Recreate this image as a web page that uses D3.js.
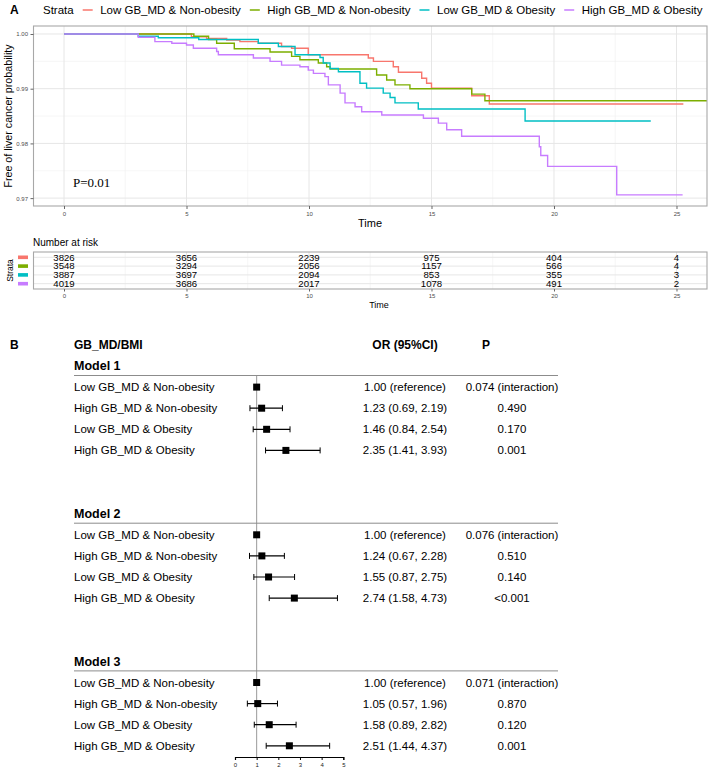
<!DOCTYPE html>
<html>
<head>
<meta charset="utf-8">
<script src="https://cdn.jsdelivr.net/npm/d3@7/dist/d3.min.js"></script>
<style>
  body { margin: 0; background: #fff; }
  svg text { font-family: "Liberation Sans", Arial, Helvetica, sans-serif; white-space: pre; }
</style>
</head>
<body>
<div id="chart"></div>
<script>
// ---- panel A: Kaplan-Meier data ----
const strata = ['Low GB_MD & Non-obesity', 'High GB_MD & Non-obesity', 'Low GB_MD & Obesity', 'High GB_MD & Obesity'];
const strataColors = ['#F8766D', '#7CAE00', '#00BFC4', '#C77CFF'];

// [time, survival] at each step
const kmLowNonObese = [[0, 1.0000], [5.20, 0.9995], [5.82, 0.9992], [6.64, 0.9989], [7.18, 0.9986], [7.93, 0.9983], [8.88, 0.9977], [9.29, 0.9974], [9.97, 0.9962], [12.42, 0.9956], [12.63, 0.9950], [13.44, 0.9940], [13.65, 0.9930], [14.60, 0.9919], [14.80, 0.9910], [15.00, 0.9901], [16.64, 0.9887], [17.36, 0.9872], [25.28, 0.9872]];
const kmHighNonObese = [[0, 1.0000], [5.30, 0.9996], [5.90, 0.9990], [6.23, 0.9983], [6.95, 0.9973], [8.41, 0.9967], [9.29, 0.9959], [9.63, 0.9953], [10.38, 0.9947], [10.72, 0.9940], [10.86, 0.9936], [12.76, 0.9925], [13.17, 0.9916], [13.51, 0.9907], [14.12, 0.9900], [16.64, 0.9890], [17.18, 0.9878], [26.50, 0.9878]];
const kmLowObese = [[0, 1.0000], [3.03, 0.9996], [3.85, 0.9993], [5.50, 0.9990], [7.93, 0.9983], [8.75, 0.9977], [9.43, 0.9962], [10.45, 0.9957], [10.58, 0.9947], [10.86, 0.9937], [11.20, 0.9931], [12.08, 0.9910], [12.35, 0.9901], [13.03, 0.9892], [13.31, 0.9884], [13.51, 0.9874], [14.46, 0.9863], [18.82, 0.9841], [23.95, 0.9841]];
const kmHighObese = [[0, 1.0000], [3.03, 0.9994], [3.71, 0.9986], [4.40, 0.9983], [5.00, 0.9980], [5.28, 0.9974], [6.23, 0.9968], [6.30, 0.9962], [7.73, 0.9956], [8.41, 0.9950], [8.88, 0.9943], [9.63, 0.9940], [9.97, 0.9934], [10.18, 0.9928], [10.65, 0.9922], [10.79, 0.9907], [11.27, 0.9892], [11.47, 0.9874], [11.88, 0.9867], [12.15, 0.9858], [12.97, 0.9852], [14.67, 0.9846], [15.28, 0.9837], [15.62, 0.9825], [16.23, 0.9813], [19.40, 0.9794], [19.46, 0.9778], [19.74, 0.9758], [22.56, 0.9706], [25.25, 0.9706]];
const kmSeries = [kmLowNonObese, kmHighNonObese, kmLowObese, kmHighObese];

const timeTicks = [0, 5, 10, 15, 20, 25];
const survTicks = [0.97, 0.98, 0.99, 1.00];
const pLogRank = 'P=0.01';

// number at risk, one array per stratum, at timeTicks
const riskLowNonObese = [3826, 3656, 2239, 975, 404, 4];
const riskHighNonObese = [3548, 3294, 2056, 1157, 566, 4];
const riskLowObese = [3887, 3697, 2094, 853, 355, 3];
const riskHighObese = [4019, 3686, 2017, 1078, 491, 2];
const riskTable = [riskLowNonObese, riskHighNonObese, riskLowObese, riskHighObese];

// ---- panel B: odds ratios ----
const models = ['Model 1', 'Model 2', 'Model 3'];
const orModel1 = [1.00, 1.23, 1.46, 2.35];
const lowModel1 = [null, 0.69, 0.84, 1.41];
const highModel1 = [null, 2.19, 2.54, 3.93];
const pModel1 = ['0.074 (interaction)', '0.490', '0.170', '0.001'];
const orModel2 = [1.00, 1.24, 1.55, 2.74];
const lowModel2 = [null, 0.67, 0.87, 1.58];
const highModel2 = [null, 2.28, 2.75, 4.73];
const pModel2 = ['0.076 (interaction)', '0.510', '0.140', '<0.001'];
const orModel3 = [1.00, 1.05, 1.58, 2.51];
const lowModel3 = [null, 0.57, 0.89, 1.44];
const highModel3 = [null, 1.96, 2.82, 4.37];
const pModel3 = ['0.071 (interaction)', '0.870', '0.120', '0.001'];
const orTicks = [0, 1, 2, 3, 4, 5];

(function() {
    'use strict';

    class LiverCancerFigure {
        constructor(el) {
            this.svg = d3.select(el).append('svg')
                .attr('width', 709)
                .attr('height', 772);
            this.svg.append('rect').attr('width', 709).attr('height', 772).attr('fill', '#fff');
            // shared time axis for the curve panel and the risk table
            this.x = d3.scaleLinear().domain([-1.245, 26.245]).range([33.5, 707]);
            this.drawLegend();
            this.drawCurves();
            this.drawRiskTable();
            this.drawForest();
        }

        drawLegend() {
            const g = this.svg.append('g');
            g.append('text').attr('x', 10).attr('y', 10).attr('dy', '0.35em')
                .attr('font-size', 12).attr('font-weight', 'bold').text('A');
            let cx = 43;
            const t = g.append('text').attr('x', cx).attr('y', 10).attr('dy', '0.35em')
                .attr('font-size', 11.5).text('Strata');
            cx += t.node().getComputedTextLength() + 9;
            strata.forEach((s, i) => {
                g.append('line').attr('x1', cx).attr('x2', cx + 10).attr('y1', 10).attr('y2', 10)
                    .attr('stroke', strataColors[i]).attr('stroke-width', 1.5);
                cx += 17.5;
                const lab = g.append('text').attr('x', cx).attr('y', 10).attr('dy', '0.35em')
                    .attr('font-size', 11.5).text(s);
                cx += lab.node().getComputedTextLength() + 9;
            });
        }

        drawCurves() {
            const x = this.x;
            const y = d3.scaleLinear().domain([0.96856, 1.00146]).range([206, 26]);
            const g = this.svg.append('g');
            const top = 26, bottom = 206, left = 33.5, right = 707;

            g.append('clipPath').attr('id', 'km-clip')
                .append('rect').attr('x', left).attr('y', top).attr('width', right - left).attr('height', bottom - top);

            // minor then major grid
            const minorX = timeTicks.map(d => d + 2.5).filter(d => x(d) > left && x(d) < right);
            const minorY = survTicks.slice(0, -1).map(d => d + 0.005);
            g.selectAll('.vminor').data(minorX).enter().append('line')
                .attr('x1', d => x(d)).attr('x2', d => x(d)).attr('y1', top).attr('y2', bottom)
                .attr('stroke', '#f0f0f0').attr('stroke-width', 0.6);
            g.selectAll('.hminor').data(minorY).enter().append('line')
                .attr('x1', left).attr('x2', right).attr('y1', d => y(d)).attr('y2', d => y(d))
                .attr('stroke', '#f0f0f0').attr('stroke-width', 0.6);
            g.selectAll('.vmajor').data(timeTicks).enter().append('line')
                .attr('x1', d => x(d)).attr('x2', d => x(d)).attr('y1', top).attr('y2', bottom)
                .attr('stroke', '#e6e6e6').attr('stroke-width', 1);
            g.selectAll('.hmajor').data(survTicks).enter().append('line')
                .attr('x1', left).attr('x2', right).attr('y1', d => y(d)).attr('y2', d => y(d))
                .attr('stroke', '#e6e6e6').attr('stroke-width', 1);

            const line = d3.line().x(d => x(d[0])).y(d => y(d[1])).curve(d3.curveStepAfter);
            g.append('g').attr('clip-path', 'url(#km-clip)')
                .selectAll('path').data(kmSeries).enter().append('path')
                .attr('d', line)
                .attr('fill', 'none')
                .attr('stroke', (d, i) => strataColors[i])
                .attr('stroke-width', 1.4);

            g.append('rect').attr('x', left).attr('y', top).attr('width', right - left).attr('height', bottom - top)
                .attr('fill', 'none').attr('stroke', '#a8a8a8').attr('stroke-width', 1.1);

            // axes
            const ax = g.append('g').attr('transform', `translate(0,${bottom})`)
                .call(d3.axisBottom(x).tickValues(timeTicks).tickSize(3).tickPadding(3).tickFormat(d3.format('d')));
            const ay = g.append('g').attr('transform', `translate(${left},0)`)
                .call(d3.axisLeft(y).tickValues(survTicks).tickSize(3).tickPadding(2.5).tickFormat(d3.format('.2f')));
            [ax, ay].forEach(a => {
                a.select('.domain').remove();
                a.selectAll('.tick line').attr('stroke', '#666');
                a.selectAll('.tick text').attr('fill', '#4d4d4d').attr('font-size', 6)
                    .attr('font-family', '"Liberation Sans", Arial, sans-serif');
            });

            g.append('text').attr('x', 370).attr('y', 223).attr('dy', '0.35em').attr('text-anchor', 'middle')
                .attr('font-size', 11).text('Time');
            g.append('text').attr('transform', `translate(8.5,${(top + bottom) / 2}) rotate(-90)`)
                .attr('dy', '0.35em').attr('text-anchor', 'middle').attr('font-size', 10.7)
                .text('Free of liver cancer probability');
            g.append('text').attr('x', 73).attr('y', 182).attr('dy', '0.35em')
                .style('font-family', '"Liberation Serif", "Times New Roman", serif')
                .attr('font-size', 13).text(pLogRank);
        }

        drawRiskTable() {
            const x = this.x;
            const top = 252, bottom = 289, left = 33.5, right = 707;
            const ry = d3.scalePoint().domain(d3.range(strata.length)).range([257.3, 283.7]);
            const g = this.svg.append('g');

            g.append('text').attr('x', 33).attr('y', 242).attr('dy', '0.35em').attr('font-size', 10)
                .text('Number at risk');

            const minorX = timeTicks.map(d => d + 2.5).filter(d => x(d) < right);
            g.selectAll('.vminor').data(minorX).enter().append('line')
                .attr('x1', d => x(d)).attr('x2', d => x(d)).attr('y1', top).attr('y2', bottom)
                .attr('stroke', '#f0f0f0').attr('stroke-width', 0.6);
            g.selectAll('.vmajor').data(timeTicks).enter().append('line')
                .attr('x1', d => x(d)).attr('x2', d => x(d)).attr('y1', top).attr('y2', bottom)
                .attr('stroke', '#e6e6e6').attr('stroke-width', 1);
            g.selectAll('.hmajor').data(d3.range(strata.length)).enter().append('line')
                .attr('x1', left).attr('x2', right).attr('y1', d => ry(d)).attr('y2', d => ry(d))
                .attr('stroke', '#e6e6e6').attr('stroke-width', 1);

            riskTable.forEach((row, i) => {
                g.selectAll(null).data(row).enter().append('text')
                    .attr('x', (d, j) => x(timeTicks[j]))
                    .attr('y', ry(i)).attr('dy', '0.34em')
                    .attr('text-anchor', 'middle').attr('font-size', 9.6)
                    .text(d => d);
                g.append('rect').attr('x', 18).attr('y', ry(i) - 1.8).attr('width', 10).attr('height', 3.6)
                    .attr('fill', strataColors[i]);
            });

            g.append('rect').attr('x', left).attr('y', top).attr('width', right - left).attr('height', bottom - top)
                .attr('fill', 'none').attr('stroke', '#a8a8a8').attr('stroke-width', 1.1);

            const ax = g.append('g').attr('transform', `translate(0,${bottom})`)
                .call(d3.axisBottom(x).tickValues(timeTicks).tickSize(2.5).tickPadding(2).tickFormat(d3.format('d')));
            ax.select('.domain').remove();
            ax.selectAll('.tick line').attr('stroke', '#666');
            ax.selectAll('.tick text').attr('fill', '#4d4d4d').attr('font-size', 6);

            g.append('text').attr('x', 379).attr('y', 305).attr('dy', '0.35em').attr('text-anchor', 'middle')
                .attr('font-size', 9).text('Time');
            g.append('text').attr('transform', `translate(10,${(top + bottom) / 2}) rotate(-90)`)
                .attr('dy', '0.35em').attr('text-anchor', 'middle').attr('font-size', 8.5).text('Strata');
        }

        drawForest() {
            const g = this.svg.append('g');
            const ox = d3.scaleLinear().domain([0, 5]).range([235, 343.3]);
            // row index -> vertical position (header row is -1)
            const row = d3.scaleLinear().domain([0, 1]).range([366, 387.1]);
            const fmt = d3.format('.2f');
            const labelX = 74, orX = 405, pX = 512, ruleEnd = 558;
            const axisY = 757;

            const modelData = [
                { or: orModel1, lo: lowModel1, hi: highModel1, p: pModel1 },
                { or: orModel2, lo: lowModel2, hi: highModel2, p: pModel2 },
                { or: orModel3, lo: lowModel3, hi: highModel3, p: pModel3 }
            ];

            const hdrY = row(-1);
            g.append('text').attr('x', 10).attr('y', hdrY).attr('dy', '0.35em')
                .attr('font-size', 12).attr('font-weight', 'bold').text('B');
            g.append('text').attr('x', labelX).attr('y', hdrY).attr('dy', '0.35em')
                .attr('font-size', 12).attr('font-weight', 'bold').text('GB_MD/BMI');
            g.append('text').attr('x', orX).attr('y', hdrY).attr('dy', '0.35em').attr('text-anchor', 'middle')
                .attr('font-size', 12).attr('font-weight', 'bold').text('OR (95%CI)');
            g.append('text').attr('x', 486).attr('y', hdrY).attr('dy', '0.35em').attr('text-anchor', 'middle')
                .attr('font-size', 12).attr('font-weight', 'bold').text('P');

            // reference line at OR = 1
            g.append('line').attr('x1', ox(1)).attr('x2', ox(1))
                .attr('y1', row(0) + 9.5).attr('y2', axisY)
                .attr('stroke', '#9a9a9a').attr('stroke-width', 1);

            modelData.forEach((m, k) => {
                const base = k * 7;
                g.append('text').attr('x', labelX).attr('y', row(base)).attr('dy', '0.35em')
                    .attr('font-size', 12.5).attr('font-weight', 'bold').text(models[k]);
                g.append('line').attr('x1', labelX).attr('x2', ruleEnd)
                    .attr('y1', row(base) + 9.5).attr('y2', row(base) + 9.5)
                    .attr('stroke', '#8c8c8c').attr('stroke-width', 1);

                strata.forEach((s, i) => {
                    const yy = row(base + i + 1);
                    g.append('text').attr('x', labelX).attr('y', yy).attr('dy', '0.35em')
                        .attr('font-size', 11.5).text(s);
                    const ci = m.lo[i] == null
                        ? `${fmt(m.or[i])} (reference)`
                        : `${fmt(m.or[i])} (${fmt(m.lo[i])}, ${fmt(m.hi[i])})`;
                    g.append('text').attr('x', orX).attr('y', yy).attr('dy', '0.35em').attr('text-anchor', 'middle')
                        .attr('font-size', 11.5).text(ci);
                    g.append('text').attr('x', pX).attr('y', yy).attr('dy', '0.35em').attr('text-anchor', 'middle')
                        .attr('font-size', 11.5).text(m.p[i]);

                    if (m.lo[i] != null) {
                        g.append('line').attr('x1', ox(m.lo[i])).attr('x2', ox(m.hi[i]))
                            .attr('y1', yy).attr('y2', yy).attr('stroke', '#000').attr('stroke-width', 1.2);
                        [m.lo[i], m.hi[i]].forEach(v => {
                            g.append('line').attr('x1', ox(v)).attr('x2', ox(v))
                                .attr('y1', yy - 3).attr('y2', yy + 3).attr('stroke', '#000').attr('stroke-width', 1);
                        });
                    }
                    g.append('rect').attr('x', ox(m.or[i]) - 3.5).attr('y', yy - 3.5)
                        .attr('width', 7).attr('height', 7).attr('fill', '#000');
                });
            });

            const ax = g.append('g').attr('transform', `translate(0,${axisY})`)
                .call(d3.axisBottom(ox).tickValues(orTicks).tickSize(3).tickPadding(3).tickFormat(d3.format('d')));
            ax.select('.domain').attr('stroke', '#000').attr('stroke-width', 1.2);
            ax.selectAll('.tick line').attr('stroke', '#000');
            ax.selectAll('.tick text').attr('fill', '#222').attr('font-size', 6);
        }
    }

    new LiverCancerFigure('#chart');
})();
</script>
</body>
</html>
